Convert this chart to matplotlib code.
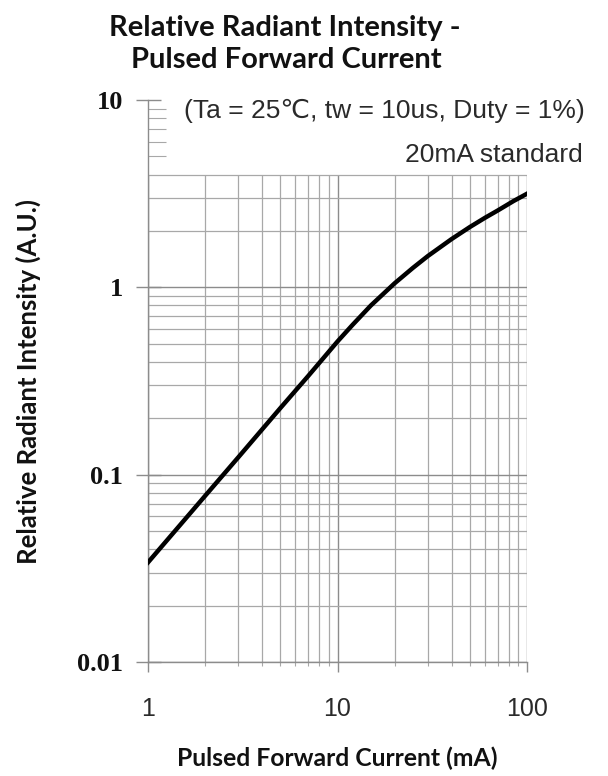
import numpy as np
import matplotlib
matplotlib.use('Agg')
import matplotlib.pyplot as plt
from matplotlib.ticker import FixedLocator, FixedFormatter, NullFormatter

# Data
current_ma = [1, 2, 3, 5, 7, 10, 12, 15, 20, 25, 30, 40, 50, 60, 70, 85, 100]
intensity = [0.034, 0.077, 0.124, 0.227, 0.336, 0.514, 0.63, 0.80, 1.05, 1.27, 1.47,
             1.81, 2.10, 2.35, 2.57, 2.89, 3.16]

x_major = [1, 10, 100]
x_labels = ['1', '10', '100']
y_major = [0.01, 0.1, 1, 10]
y_labels = ['0.01', '0.1', '1', '10']
grid_top = 4

x_minor = [k * 10 ** d for d in (0, 1) for k in range(2, 10)]
y_minor = [k * 10 ** d for d in (-2, -1, 0) for k in range(2, 10)]

fig = plt.figure(figsize=(6.08, 7.76), dpi=100)
ax = fig.add_axes([148 / 608, 114 / 776, 379 / 608, 562 / 776])
ax.set_xscale('log')
ax.set_yscale('log')
ax.set_xlim(1, 100)
ax.set_ylim(0.01, 10)

grid_c = '#a8a8a8'
major_c = '#8c8c8c'
text_c = '#2a2a2a'

# grid only covers the region up to y = 4
for xv in x_minor:
    ax.vlines(xv, 0.01, grid_top, color=grid_c, lw=0.9, zorder=1)
for xv in x_major:
    ax.vlines(xv, 0.01, grid_top, color=major_c, lw=1.0, zorder=1)
for yv in y_minor:
    if yv <= grid_top:
        ax.hlines(yv, 1, 100, color=grid_c, lw=0.9, zorder=1)
for yv in y_major[:-1]:
    ax.hlines(yv, 1, 100, color=major_c, lw=1.0, zorder=1)

ax.plot(current_ma, intensity, color='black', lw=3.2, solid_joinstyle='round', zorder=3)

for side in ('top', 'right'):
    ax.spines[side].set_visible(False)
for side in ('left', 'bottom'):
    ax.spines[side].set_color(major_c)
    ax.spines[side].set_linewidth(1.0)

ax.xaxis.set_major_locator(FixedLocator(x_major))
ax.xaxis.set_major_formatter(FixedFormatter(x_labels))
ax.xaxis.set_minor_locator(FixedLocator(x_minor))
ax.xaxis.set_minor_formatter(NullFormatter())
ax.yaxis.set_major_locator(FixedLocator(y_major))
ax.yaxis.set_major_formatter(FixedFormatter(y_labels))
ax.yaxis.set_minor_locator(FixedLocator([v for v in y_minor if v > grid_top]))
ax.yaxis.set_minor_formatter(NullFormatter())

ax.tick_params(axis='x', which='major', direction='out', length=7, width=1, color=major_c,
               pad=18, labelsize=18, labelcolor=text_c)
ax.tick_params(axis='x', which='minor', direction='out', length=3, width=0.8, color=grid_c)
ax.tick_params(axis='y', which='major', direction='inout', length=18, width=1, color=major_c,
               pad=9, labelsize=19, labelcolor='#111111')
ax.tick_params(axis='y', which='minor', direction='in', length=13, width=0.8, color=grid_c)
for lab in ax.get_yticklabels():
    lab.set_family('Liberation Serif')
    lab.set_fontweight('bold')
for lab in ax.get_xticklabels():
    lab.set_family('Liberation Sans')

ax.set_xlabel('Pulsed Forward Current (mA)', fontsize=17.8, fontweight='bold',
              family='Lato', va='center', color='#111111')
ax.xaxis.set_label_coords(0.5, -96 / 562)
ax.set_ylabel('Relative Radiant Intensity (A.U.)', fontsize=18.5, fontweight='bold',
              family='Lato', va='center', color='#111111')
ax.yaxis.set_label_coords(-120 / 379, 0.5)

fig.text(285 / 608, 1 - 28 / 776, 'Relative Radiant Intensity -', ha='center', va='center',
         fontsize=21, fontweight='bold', family='Lato', color='#111111')
fig.text(286 / 608, 1 - 60 / 776, 'Pulsed Forward Current', ha='center', va='center',
         fontsize=21, fontweight='bold', family='Lato', color='#111111')

fig.text(585 / 608, 1 - 111 / 776, '(Ta = 25\u2103, tw = 10us, Duty = 1%)', ha='right', va='center',
         fontsize=19, family=['Liberation Sans', 'DejaVu Sans'], color=text_c)
fig.text(583 / 608, 1 - 155 / 776, '20mA standard', ha='right', va='center',
         fontsize=19, family='Liberation Sans', color=text_c)

fig.savefig('out.png', dpi=100, facecolor='white')
